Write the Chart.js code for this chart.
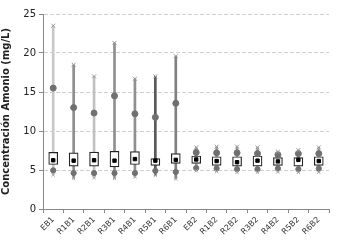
<!DOCTYPE html>
<html><head><meta charset="utf-8">
<script src="https://cdn.jsdelivr.net/npm/chart.js@4/dist/chart.umd.min.js"></script>
<style>html,body{margin:0;padding:0;background:#fff}</style>
</head><body>
<canvas id="c" width="341" height="247"></canvas>
<script>
const categories = ['EB1','R1B1','R2B1','R3B1','R4B1','R5B1','R6B1','EB2','R1B2','R2B2','R3B2','R4B2','R5B2','R6B2'];
const maxVals   = [23.5,18.5,17.0,21.3,16.7,17.0,19.6, 7.9,8.0,8.0,7.9,7.35,7.55,7.9];
const upperP    = [15.5,13.0,12.3,14.5,12.2,11.75,13.55, 7.25,7.2,7.2,7.1,6.95,7.1,7.1];
const q3Vals    = [7.25,7.2,7.3,7.4,7.35,6.45,7.1, 6.8,6.7,6.7,6.8,6.6,6.6,6.7];
const meanVals  = [6.25,6.2,6.25,6.2,6.4,6.2,6.3, 6.35,6.15,6.0,6.2,6.1,6.3,6.15];
const q1Vals    = [5.7,5.5,5.5,5.4,5.7,5.6,5.85, 5.85,5.6,5.5,5.5,5.6,5.5,5.6];
const lowerP    = [4.95,4.6,4.6,4.6,4.6,4.9,4.75, 5.25,5.2,5.1,5.1,5.2,5.1,5.2];
const minVals   = [4.35,3.9,4.0,3.9,4.1,4.3,3.85, 4.9,4.8,4.7,4.7,4.75,4.7,4.7];
const yTicks    = [0,5,10,15,20,25];

const whiskerColors = ['#c8c8c8','#8f8f8f','#c0c0c0','#8f8f8f','#8f8f8f','#5a5a5a','#808080','#a0a0a0','#a0a0a0','#a0a0a0','#a0a0a0','#a0a0a0','#a0a0a0','#a0a0a0'];

const pts = (arr, style, r, bg, bc, bw) => ({
  type:'line', data: arr, showLine:false, pointStyle: style, pointRadius: r, pointHoverRadius: r,
  pointBackgroundColor: bg, pointBorderColor: bc, pointBorderWidth: bw, order: 0
});

new Chart(document.getElementById('c'), {
  data: {
    labels: categories,
    datasets: [
      { type:'bar', data: categories.map((c,i)=>[minVals[i],maxVals[i]]), backgroundColor: whiskerColors,
        borderWidth:0, barThickness:2, grouped:false, order:3 },
      { type:'bar', data: categories.map((c,i)=>[q1Vals[i],q3Vals[i]]), backgroundColor:'#ffffff',
        borderColor:'#222222', borderWidth:1.2, borderSkipped:false, barThickness:9, grouped:false, order:2 },
      pts(maxVals,'crossRot',2.8,'#999','#999',1),
      pts(minVals,'crossRot',2.3,'#aaa','#aaa',1),
      pts(upperP,'circle',3,'#707070','#707070',1),
      pts(lowerP,'circle',2.6,'#707070','#707070',1),
      pts(meanVals,'rect',2.4,'#000','#000',1)
    ]
  },
  options: {
    responsive:false, animation:false,
    layout:{ padding:{ top:14, right:12, left:0, bottom:0 } },
    plugins:{ legend:{display:false}, tooltip:{enabled:false} },
    scales:{
      x:{
        type:'category', offset:true,
        grid:{ display:true, drawOnChartArea:false, drawTicks:true, tickLength:4, offset:true, color:'#888' },
        border:{ display:true, color:'#888' },
        ticks:{ maxRotation:45, minRotation:45, autoSkip:false, color:'#333', font:{ family:'DejaVu Sans', size:8 }, padding:2 },
        afterFit: s => { s.height = 38; }
      },
      y:{
        min:0, max:25,
        afterBuildTicks: s => { s.ticks = yTicks.map(v=>({value:v})); },
        grid:{ color: ctx => ctx.tick && ctx.tick.value===0 ? 'rgba(0,0,0,0)' : '#cfcfcf', lineWidth:1, tickLength:4, drawTicks:true,
               tickColor:'#888' },
        border:{ display:true, color:'#888', dash:[4,2] },
        ticks:{ color:'#222', font:{ family:'DejaVu Sans', size:10 }, padding:3 },
        title:{ display:true, text:'Concentración Amonio (mg/L)', color:'#222', font:{ family:'DejaVu Sans', size:10, weight:'bold' }, padding:{top:0,bottom:2} },
        afterFit: s => { s.width = 43; }
      }
    }
  }
});
</script>
</body></html>
